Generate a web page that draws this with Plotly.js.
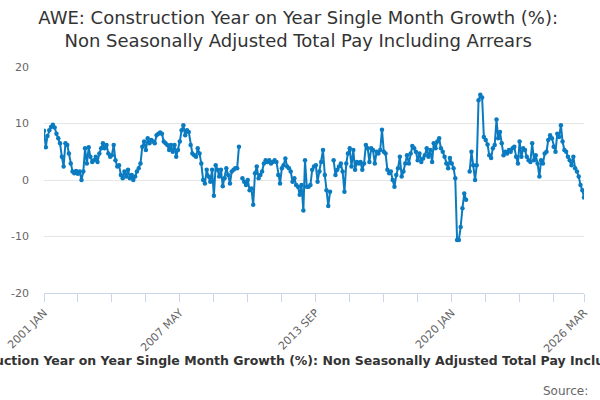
<!DOCTYPE html>
<html>
<head>
<meta charset="utf-8">
<script src="https://cdn.plot.ly/plotly-3.0.1.min.js"></script>
<style>
    html, body { margin: 0; padding: 0; background: #fff; }
    #chart { width: 600px; height: 400px; }
</style>
</head>
<body>
<div id="chart"></div>
<script>
// AWE construction pay growth, monthly, 2001 JAN - 2026 MAR (null = no value)
const seriesName = 'AWE: Construction Year on Year Single Month Growth (%): Non Seasonally Adjusted Total Pay Including Arrears';
const firstYear = 2001;

const g2001 = [8.7, 5.8, 7.8, 8.8, 9.4, 9.8, 9.3, 8.2, 7.4, 6.5, 4.1, 2.4];
const g2002 = [6.5, 6.2, 4.7, 2.9, 1.5, 1.2, 1.6, 1.1, 1.5, 0, 1.5, 5.6];
const g2003 = [2.9, 5.8, 4.1, 3.2, 3.5, 4.1, 3.2, 4.7, 5.6, 6.5, 5.6, 6.2];
const g2004 = [4.7, 4.1, 4.4, 6.2, 3.5, 2.4, 2.6, 0.9, 0.3, 1.5, 0.6, 1.8];
const g2005 = [0.3, 0.9, 0, 0.6, 1.5, 2.1, 2.9, 5.9, 6.8, 5.3, 7.4, 6.5];
const g2006 = [7.1, 6.8, 6.5, 7.9, 8.2, 8.4, 8.2, 6.8, 6.5, 6.2, 5.3, 6.2];
const g2007 = [5, 6.2, 4.1, 5.3, 6.8, 8.8, 9.7, 7.9, 8.8, 8.5, 6.2, 4.7];
const g2008 = [4.4, 4.1, 5.6, 4.7, 2.9, 0, -0.6, 1.8, 0.6, -0.3, 1.8, -2.8];
const g2009 = [2.6, 1.8, 0.6, 1.8, -1.1, 0.3, 2.1, 0.9, -0.6, 1.5, 1.8, 2.1];
const g2010 = [2.1, 5.9, null, 0.3, -0.3, -0.9, 0, -1.8, -1.5, -4.4, 1.2, 2.4];
const g2011 = [0.3, 0.9, 1.5, 2.9, 3.5, 3.2, 3.5, 2.9, 3.2, 3.5, 3.2, 0.9];
const g2012 = [-0.6, 2.1, 2.6, 3.8, 2.4, 2.1, 1.5, -0.3, 0.3, -0.9, -1.2, -2.6];
const g2013 = [-0.9, -5.4, 3.5, -1.2, -1.2, -0.9, 1.8, 2.4, 2.6, -0.3, 1.5, 3.2];
const g2014 = [5.3, 0.9, -1.8, -4.6, -2.1, null, 3.5, 0.9, 1.8, 2.4, 2.9, 1.5];
const g2015 = [-2.1, 2.9, 4.7, 5.6, 2.4, 5.3, 1.8, 3.2, 2.9, 3.2, 1.8, 2.9];
const g2016 = [6.2, 5.6, 3.2, 5.6, 5.3, 2.9, 5, 4.7, 5.3, 8.9, 5, 4.7];
const g2017 = [1.8, 1.2, 1.5, 0, -1.2, 0.9, 2.1, 4.1, 0.6, 1.5, 2.9, 4.4];
const g2018 = [2.9, 4.7, 6, 5.6, 5, 3.5, 4.7, 3.2, 3.8, 4.4, 5.6, 4.1];
const g2019 = [5.3, 3.2, 6.5, 5.6, 6.8, 7.4, 5.6, 5, 4.1, 2.9, 2.1, 3.9];
const g2020 = [2.9, 2.1, 0.3, -10.6, -10.6, -8.3, -5, -2.4, -3.5, null, 1.5, 5];
const g2021 = [2.6, 0, 2.6, 14.1, 15.1, 14.6, 7.6, 7.1, 6.3, 4.4, 3.9, 5.6];
const g2022 = [6.2, 10.7, 7.4, 8.5, 6.5, 4.4, 5, 4.7, 5.3, 5, 5.6, 5.9];
const g2023 = [4.1, 2.9, 6.8, 4.1, 5.6, 5.3, 4.1, 3.5, 3.2, 6.5, 3.5, 4.4];
const g2024 = [2.9, 0.6, 3.5, 2.9, 4.7, 5, 7.1, 7.9, 7.4, 5.9, 5, 8.2];
const g2025 = [7.6, 9.7, 6.8, 5.3, 5, 4.1, 3.5, 2.6, 4.1, 2.1, 1.5, 0.6];
const g2026 = [-0.9, -1.8, -3.1];

const growthByYear = [g2001, g2002, g2003, g2004, g2005, g2006, g2007, g2008, g2009,
    g2010, g2011, g2012, g2013, g2014, g2015, g2016, g2017, g2018, g2019, g2020,
    g2021, g2022, g2023, g2024, g2025, g2026];

// labelled ticks; an unlabelled tick sits every 19 months in between
const tickLabels = ['2001 JAN', '2007 MAY', '2013 SEP', '2020 JAN', '2026 MAR'];
const yTicks = [-20, -10, 0, 10, 20];
const yTickLabels = ['-20', '-10', '0', '10', '20'];

const FONT = 'DejaVu Sans, Verdana, sans-serif';
const LINE_COLOR = '#0b7bc1';

function monthDate(offset) {
    const yr = firstYear + Math.floor(offset / 12);
    const mo = offset % 12 + 1;
    return yr + '-' + String(mo).padStart(2, '0') + '-01';
}

const xs = [];
const ys = [];
growthByYear.forEach((vals, yi) => {
    vals.forEach((v, mi) => {
        xs.push(monthDate(yi * 12 + mi));
        ys.push(v);
    });
});

const lastIdx = xs.length - 1;
const tickVals = [];
const tickText = [];
for (let k = 0; k * 19 < lastIdx - 10; k++) {
    tickVals.push(monthDate(k * 19));
    tickText.push(k % 4 === 0 ? tickLabels[k / 4] : '');
}
tickVals.push(xs[lastIdx]);
tickText.push(tickLabels[tickLabels.length - 1]);

const trace = {
    x: xs,
    y: ys,
    type: 'scatter',
    mode: 'lines+markers',
    name: seriesName,
    connectgaps: false,
    line: { color: LINE_COLOR, width: 2 },
    marker: { color: LINE_COLOR, size: 4.5 }
};

const layout = {
    width: 600,
    height: 400,
    margin: { l: 44, r: 16, t: 67, b: 107 },
    paper_bgcolor: '#fff',
    plot_bgcolor: '#fff',
    showlegend: false,
    title: {
        text: 'AWE: Construction Year on Year Single Month Growth (%):<br>Non Seasonally Adjusted Total Pay Including Arrears',
        font: { family: FONT, size: 18, color: '#333333' },
        x: 0.497,
        xanchor: 'center',
        xref: 'container',
        y: 0.94,
        yref: 'container',
        yanchor: 'top'
    },
    xaxis: {
        type: 'date',
        range: [xs[0], xs[lastIdx]],
        tickmode: 'array',
        tickvals: tickVals,
        ticktext: tickText,
        tickangle: -45,
        ticks: 'outside',
        ticklen: 8,
        tickcolor: '#ccd6eb',
        showline: true,
        linecolor: '#ccd6eb',
        linewidth: 1,
        showgrid: false,
        zeroline: false,
        tickfont: { family: FONT, size: 11, color: '#666666' }
    },
    yaxis: {
        range: [-20, 20],
        tickmode: 'array',
        tickvals: yTicks,
        ticktext: yTickLabels,
        showgrid: true,
        gridcolor: '#e6e6e6',
        gridwidth: 1,
        zeroline: false,
        showline: false,
        ticks: '',
        ticklabelstandoff: 14,
        tickfont: { family: FONT, size: 11, color: '#666666' }
    },
    annotations: [
        {
            // centred on the page (x = 300px), not on the plot area
            text: '<b>' + seriesName + '</b>',
            xref: 'paper', yref: 'paper',
            x: 0.474, y: -0.30,
            xanchor: 'center', yanchor: 'middle',
            showarrow: false,
            font: { family: FONT, size: 12.5, color: '#333333' }
        },
        {
            text: 'Source: ',
            xref: 'paper', yref: 'paper',
            x: 1.018, y: -0.435,
            xanchor: 'right', yanchor: 'middle',
            showarrow: false,
            font: { family: FONT, size: 12, color: '#666666' }
        }
    ]
};

Plotly.newPlot('chart', [trace], layout, { displayModeBar: false, staticPlot: true });
</script>
</body>
</html>
